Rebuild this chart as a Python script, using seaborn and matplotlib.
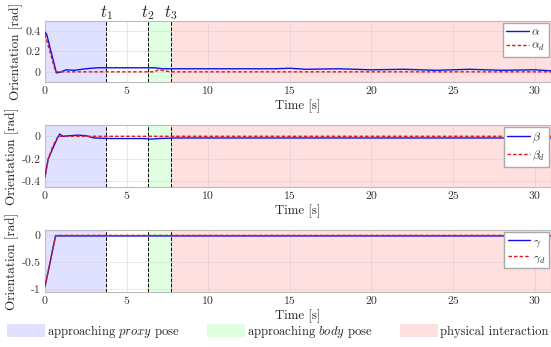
import matplotlib
matplotlib.use("Agg")
import matplotlib.pyplot as plt
import matplotlib.transforms as mtransforms
import seaborn as sns
from matplotlib.patches import Patch

# ---- data ----
t_events = [3.75, 6.3, 7.72]
t_names = ["$t_1$", "$t_2$", "$t_3$"]
t_end = 31

alpha_t = [0, 0.1, 0.7, 0.9, 1.3, 1.8, 2.5, 3.2, 4, 5, 6, 6.7, 7.2, 8, 10, 12, 14, 15, 16, 18, 20, 22, 24, 26, 28, 30, 31]
alpha = [0.39, 0.37, -0.01, -0.005, 0.02, 0.015, 0.03, 0.04, 0.04, 0.04, 0.04, 0.04, 0.03, 0.03, 0.03, 0.03,
         0.03, 0.035, 0.025, 0.03, 0.02, 0.025, 0.015, 0.025, 0.015, 0.02, 0.01]
alpha_d_t = [0, 0.65, 6.7, 6.95, 7.3, 7.7, 31]
alpha_d = [0.37, 0.0, 0.0, 0.02, 0.01, 0.0, 0.0]

beta_t = [0, 0.2, 0.5, 0.75, 0.9, 1.1, 1.5, 2, 2.5, 3, 4, 6, 6.5, 7, 8, 31]
beta = [-0.36, -0.2, -0.1, -0.02, 0.02, 0.0, 0.005, 0.01, 0.005, -0.015, -0.02, -0.02, -0.025, -0.02, -0.015, -0.015]
beta_d_t = [0, 0.2, 0.5, 0.8, 31]
beta_d = [-0.36, -0.2, -0.08, 0.0, 0.0]

gamma_t = [0, 0.65, 31]
gamma = [-0.95, -0.01, -0.01]
gamma_d_t = [0, 0.65, 31]
gamma_d = [-0.95, 0.0, 0.0]

phase_labels = ["approaching $\\it{proxy}$ pose", "approaching $\\it{body}$ pose", "physical interaction"]
phase_colors = ["#e0e0ff", "#e0ffe0", "#ffe0e0"]

sns.set_style("whitegrid")
plt.rcParams["font.family"] = ["cmr10", "DejaVu Serif"]
plt.rcParams["mathtext.fontset"] = "cm"
plt.rcParams["axes.unicode_minus"] = False
plt.rcParams["axes.formatter.use_mathtext"] = True

fig = plt.figure(figsize=(5.51, 3.47), dpi=100)
W, H = 551, 347
def ax_rect(top, bottom, left=45, right=551):
    return [left / W, 1 - bottom / H, (right - left) / W, (bottom - top) / H]

axes = [fig.add_axes(ax_rect(21, 82)), fig.add_axes(ax_rect(125, 187)), fig.add_axes(ax_rect(230, 292))]

panels = [
    (alpha_t, alpha, alpha_d_t, alpha_d, "$\\alpha$", "$\\alpha_d$", (-0.1, 0.5), [0, 0.2, 0.4], ["0", "0.2", "0.4"]),
    (beta_t, beta, beta_d_t, beta_d, "$\\beta$", "$\\beta_d$", (-0.45, 0.1), [-0.4, -0.2, 0], ["-0.4", "-0.2", "0"]),
    (gamma_t, gamma, gamma_d_t, gamma_d, "$\\gamma$", "$\\gamma_d$", (-1.05, 0.1), [-1, -0.5, 0], ["-1", "-0.5", "0"]),
]

for ax, (xt, y, xdt, yd, lab, labd, ylim, yt, ytl) in zip(axes, panels):
    ax.axvspan(0, t_events[0], color=phase_colors[0], zorder=0, lw=0)
    ax.axvspan(t_events[1], t_events[2], color=phase_colors[1], zorder=0, lw=0)
    ax.axvspan(t_events[2], t_end, color=phase_colors[2], zorder=0, lw=0)
    for te in t_events:
        ax.axvline(te, color="black", ls="--", lw=0.7, zorder=3)
    sns.lineplot(x=xt, y=y, ax=ax, color="#1010e8", lw=1.0, label=lab, zorder=4)
    sns.lineplot(x=xdt, y=yd, ax=ax, color="#e01818", lw=1.0, ls=(0, (2.5, 1.5)), label=labd, zorder=5)
    ax.set_xlim(0, t_end)
    ax.set_ylim(*ylim)
    ax.set_yticks(yt)
    ax.set_yticklabels(ytl)
    ax.set_xticks([0, 5, 10, 15, 20, 25, 30])
    ax.set_xticklabels(["0", "5", "10", "15", "20", "25", "30"])
    ax.tick_params(labelsize=8.5, colors="#333333", length=0, pad=3)
    ax.grid(True, color="#cccccc", lw=0.5, alpha=0.6)
    ax.set_axisbelow(False)
    for s in ax.spines.values():
        s.set_color("#bbbbbb")
        s.set_linewidth(0.8)
    ax.set_xlabel("Time [s]", fontsize=9.3, labelpad=3)
    ax.set_ylabel("Orientation [rad]", fontsize=9.5, labelpad=2)
    ax.legend(loc="upper right", fontsize=8.5, handlelength=1.9, handletextpad=0.2,
              borderpad=0.3, labelspacing=0.3, frameon=True, fancybox=False,
              edgecolor="#aaaaaa", framealpha=1.0, borderaxespad=0.2)

trans = mtransforms.blended_transform_factory(axes[0].transData, fig.transFigure)
for te, name in zip(t_events, t_names):
    axes[0].text(te, 1 - 17 / H, name, transform=trans,
                 ha="center", va="baseline", fontsize=12)

xs = [7, 207, 400]
for x0, c, lab in zip(xs, phase_colors, phase_labels):
    fig.legend([Patch(facecolor=c, edgecolor="none")], [lab], loc="center left",
               bbox_to_anchor=(x0 / W, 1 - 331 / H), frameon=False, fontsize=9.1,
               handlelength=3.0, handleheight=1.2, handletextpad=0.15, borderpad=0.0,
               borderaxespad=0.0)

fig.savefig("out.png", dpi=100)
